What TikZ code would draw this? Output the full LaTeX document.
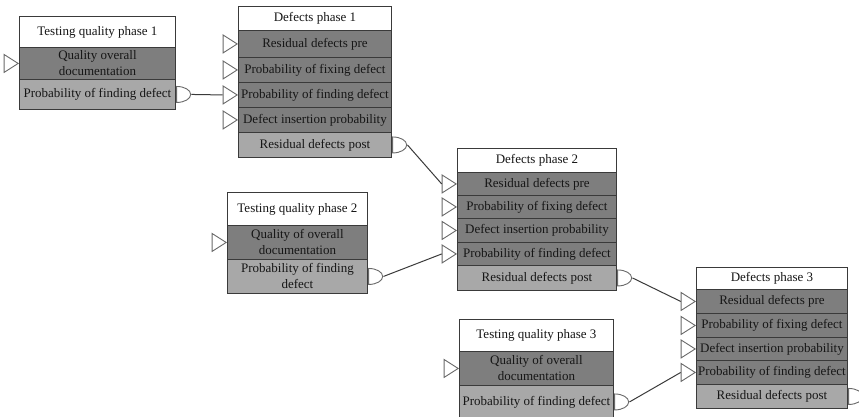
\documentclass[tikz,border=0pt]{standalone}
\usepackage{fontspec}
\setmainfont{Liberation Serif}
\usetikzlibrary{shapes.geometric}
\definecolor{rowdark}{RGB}{126,126,126}
\definecolor{rowlight}{RGB}{168,168,168}
\definecolor{edgecol}{RGB}{58,58,58}
\definecolor{txtcol}{RGB}{22,22,22}
\definecolor{portcol}{RGB}{105,105,105}
\tikzset{
  cell/.style={draw=edgecol, line width=0.9pt, anchor=north west, inner sep=1pt,
    text=txtcol, align=center, font=\fontsize{13}{16}\selectfont},
  titlecell/.style={cell, fill=white},
  darkcell/.style={cell, fill=rowdark},
  lightcell/.style={cell, fill=rowlight},
  inport/.style={isosceles triangle, isosceles triangle apex angle=65, minimum size=14pt,
    inner sep=0pt, anchor=apex, draw=portcol, fill=white, line width=0.9pt},
  outport/.style={semicircle, rotate=-90, yscale=1.75, anchor=chord center, minimum width=16pt,
    inner sep=0pt, draw=portcol, fill=white, line width=0.9pt},
  link/.style={draw=edgecol, line width=1pt}
}
\newcommand\mkcell[7]{\node[#2, minimum width=#5pt, minimum height=#6pt] (#1) at (#3,#4) {#7};}
\begin{document}
\begin{tikzpicture}[x=1pt,y=-1pt]
\path[use as bounding box] (0,0) rectangle (859,417);
\clip (0,0) rectangle (859,417);
% Testing quality phase 1
\mkcell{tq1t}{titlecell}{19}{16}{156}{31}{Testing quality phase 1}
\mkcell{tq1a}{darkcell}{19}{47}{156}{32}{Quality overall\\documentation}
\mkcell{tq1b}{lightcell}{19}{79}{156}{30}{Probability of finding defect}
% Defects phase 1
\mkcell{d1t}{titlecell}{238}{6}{153}{24}{Defects phase 1}
\mkcell{d1r1}{darkcell}{238}{30}{153}{27}{Residual defects pre}
\mkcell{d1r2}{darkcell}{238}{57}{153}{25}{Probability of fixing defect}
\mkcell{d1r3}{darkcell}{238}{82}{153}{25}{Probability of finding defect}
\mkcell{d1r4}{darkcell}{238}{107}{153}{25}{Defect insertion probability}
\mkcell{d1r5}{lightcell}{238}{132}{153}{25}{Residual defects post}
% Defects phase 2
\mkcell{d2t}{titlecell}{457}{148}{159}{24}{Defects phase 2}
\mkcell{d2r1}{darkcell}{457}{172}{159}{23}{Residual defects pre}
\mkcell{d2r2}{darkcell}{457}{195}{159}{23}{Probability of fixing defect}
\mkcell{d2r3}{darkcell}{457}{218}{159}{24}{Defect insertion probability}
\mkcell{d2r4}{darkcell}{457}{242}{159}{23}{Probability of finding defect}
\mkcell{d2r5}{lightcell}{457}{265}{159}{25}{Residual defects post}
% Testing quality phase 2
\mkcell{tq2t}{titlecell}{227}{192}{140}{33}{Testing quality phase 2}
\mkcell{tq2a}{darkcell}{227}{225}{140}{34}{Quality of overall\\documentation}
\mkcell{tq2b}{lightcell}{227}{259}{140}{34}{Probability of finding\\defect}
% Defects phase 3
\mkcell{d3t}{titlecell}{696}{267}{151}{22}{Defects phase 3}
\mkcell{d3r1}{darkcell}{696}{289}{151}{24}{Residual defects pre}
\mkcell{d3r2}{darkcell}{696}{313}{151}{24}{Probability of fixing defect}
\mkcell{d3r3}{darkcell}{696}{337}{151}{23}{Defect insertion probability}
\mkcell{d3r4}{darkcell}{696}{360}{151}{24}{Probability of finding defect}
\mkcell{d3r5}{lightcell}{696}{384}{151}{24}{Residual defects post}
% Testing quality phase 3
\mkcell{tq3t}{titlecell}{459}{319}{154}{32}{Testing quality phase 3}
\mkcell{tq3a}{darkcell}{459}{351}{154}{34}{Quality of overall\\documentation}
\mkcell{tq3b}{lightcell}{459}{385}{154}{33}{Probability of finding defect}
% input ports
\node[inport] (tq1p) at (tq1a.west) {};
\node[inport] (tq2p) at (tq2a.west) {};
\node[inport] (tq3p) at (tq3a.west) {};
\foreach \b in {1,2,3}{
  \foreach \r in {1,2,3,4}{
    \node[inport] (d\b p\r) at (d\b r\r.west) {};
  }
}
% output ports
\node[outport] (tq1o) at (tq1b.east) {};
\node[outport] (tq2o) at (tq2b.east) {};
\node[outport] (tq3o) at (tq3b.east) {};
\node[outport] (d1o) at (d1r5.east) {};
\node[outport] (d2o) at (d2r5.east) {};
\node[outport] (d3o) at (d3r5.east) {};
% links
\draw[link] (tq1o.apex) -- (d1p3.west);
\draw[link] (d1o.apex) -- (d2p1.west);
\draw[link] (tq2o.apex) -- (d2p4.west);
\draw[link] (d2o.apex) -- (d3p1.west);
\draw[link] (tq3o.apex) -- (d3p4.west);
\end{tikzpicture}
\end{document}
